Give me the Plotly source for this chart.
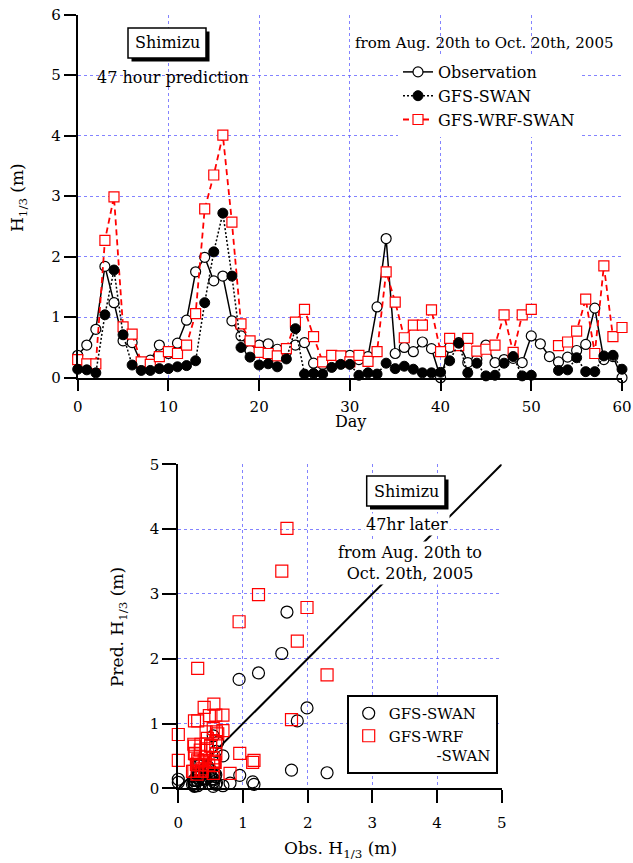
import plotly.graph_objects as go

W, H = 633, 863
FONT = "DejaVu Serif"

days = list(range(61))
obs = [0.37, 0.54, 0.80, 1.84, 1.24, 0.61, 0.58, 0.24, 0.29, 0.54,
       0.40, 0.57, 0.95, 1.75, 1.99, 1.60, 1.68, 0.94, 0.69, 0.45,
       0.54, 0.56, 0.47, 0.42, 0.54, 0.58, 0.24, 0.22, 0.28, 0.32,
       0.37, 0.30, 0.35, 1.17, 2.30, 0.40, 0.50, 0.43, 0.59, 0.48,
       0.00, 0.50, 0.58, 0.25, 0.30, 0.54, 0.25, 0.30, 0.32, 0.25,
       0.69, 0.56, 0.35, 0.26, 0.34, 0.45, 0.55, 1.15, 0.30, 0.35,
       0.00]
gfs_swan = [0.14, 0.13, 0.08, 1.04, 1.78, 0.71, 0.21, 0.12, 0.12, 0.15,
            0.15, 0.18, 0.20, 0.28, 1.24, 2.08, 2.72, 1.68, 0.50, 0.34,
            0.21, 0.23, 0.18, 0.31, 0.81, 0.06, 0.07, 0.06, 0.17, 0.22,
            0.22, 0.04, 0.08, 0.06, 0.24, 0.15, 0.19, 0.14, 0.08, 0.08,
            0.09, 0.28, 0.57, 0.08, 0.24, 0.03, 0.04, 0.24, 0.35, 0.03,
            0.04, None, None, 0.12, 0.13, 0.33, 0.10, 0.10, 0.36, 0.37,
            0.14]
gfs_wrf_swan = [0.30, 0.23, 0.23, 2.27, 2.99, 0.84, 0.72, 0.26, 0.22, 0.35,
                0.43, 0.40, 0.54, 1.06, 2.79, 3.35, 4.01, 2.57, 0.89, 0.61,
                0.42, 0.40, 0.36, 0.48, 0.92, 1.13, 0.68, 0.26, 0.37, 0.36,
                0.26, 0.37, 0.27, 0.43, 1.75, 1.25, 0.66, 0.87, 0.87, 1.12,
                0.43, 0.65, 0.53, 0.65, 0.44, 0.47, 0.54, 1.04, 0.42, 1.04,
                1.13, None, None, 0.53, 0.59, 0.77, 1.30, 0.40, 1.85, 0.68,
                0.83]
diag = [0, 5]

day_ticks = [0, 10, 20, 30, 40, 50, 60]
h_ticks = [0, 1, 2, 3, 4, 5, 6]
sc_ticks = [0, 1, 2, 3, 4, 5]

# scatter pairs (drop missing)
sw_x = [o for o, p in zip(obs, gfs_swan) if p is not None]
sw_y = [p for p in gfs_swan if p is not None]
wr_x = [o for o, p in zip(obs, gfs_wrf_swan) if p is not None]
wr_y = [p for p in gfs_wrf_swan if p is not None]


def px(x):
    return x / W


def py(y):
    return 1 - y / H


GRID = "rgba(90,90,255,0.75)"

fig = go.Figure()

# ---- top panel ----
fig.add_trace(go.Scatter(
    x=days, y=obs, mode="lines+markers", name="Observation",
    line=dict(color="black", width=1.5),
    marker=dict(symbol="circle", size=10, color="white",
                line=dict(color="black", width=1.2)),
    xaxis="x", yaxis="y", legend="legend", legendrank=1, cliponaxis=False))
fig.add_trace(go.Scatter(
    x=days, y=gfs_wrf_swan, mode="lines+markers", name="GFS-WRF-SWAN",
    line=dict(color="red", width=1.8, dash="6px,4px"),
    marker=dict(symbol="square", size=10, color="white",
                line=dict(color="red", width=1.2)),
    connectgaps=False,
    xaxis="x", yaxis="y", legend="legend", legendrank=3, cliponaxis=False))
fig.add_trace(go.Scatter(
    x=days, y=gfs_swan, mode="lines+markers", name="GFS-SWAN",
    line=dict(color="black", width=1.5, dash="2px,2px"),
    marker=dict(symbol="circle", size=10, color="black",
                line=dict(color="black", width=1)),
    connectgaps=False,
    xaxis="x", yaxis="y", legend="legend", legendrank=2, cliponaxis=False))

# ---- bottom panel ----
fig.add_trace(go.Scatter(
    x=diag, y=diag, mode="lines", showlegend=False,
    line=dict(color="black", width=2), xaxis="x2", yaxis="y2"))
fig.add_trace(go.Scatter(
    x=sw_x, y=sw_y, mode="markers", name="GFS-SWAN",
    marker=dict(symbol="circle-open", size=12, color="black",
                line=dict(color="black", width=1.2)),
    xaxis="x2", yaxis="y2", legend="legend2", cliponaxis=False))
fig.add_trace(go.Scatter(
    x=wr_x, y=wr_y, mode="markers",
    name="GFS-WRF<br>" + "\u00a0" * 10 + "-SWAN",
    marker=dict(symbol="square-open", size=12, color="red",
                line=dict(color="red", width=1.2)),
    xaxis="x2", yaxis="y2", legend="legend2", cliponaxis=False))

axis_common = dict(
    showline=True, linecolor="black", linewidth=2,
    ticks="outside", tickwidth=2, tickcolor="black",
    showgrid=True, gridcolor=GRID, gridwidth=1, griddash="dot",
    zeroline=False, mirror=False, automargin=False,
    ticklabeloverflow="allow",
    tickfont=dict(family=FONT, size=15, color="black"),
)

fig.update_layout(
    template="none",
    width=W, height=H,
    margin=dict(l=0, r=0, t=0, b=0, pad=0),
    paper_bgcolor="white", plot_bgcolor="white",
    font=dict(family=FONT, size=15, color="black"),
    xaxis=dict(domain=[px(77.7), px(622)], range=[0, 60], tickvals=day_ticks,
               anchor="y", ticklen=11, ticklabelstandoff=3, **axis_common),
    yaxis=dict(domain=[py(377.7), py(14.7)], range=[0, 6], tickvals=h_ticks,
               anchor="x", ticklen=12, **axis_common),
    xaxis2=dict(domain=[px(178.3), px(501.7)], range=[0, 5], tickvals=sc_ticks,
                anchor="y2", ticklen=13, ticklabelstandoff=7, **axis_common),
    yaxis2=dict(domain=[py(788.3), py(464.3)], range=[0, 5], tickvals=sc_ticks,
                anchor="x2", ticklen=14, **axis_common),
    legend=dict(x=px(398), y=py(55), xanchor="left", yanchor="top",
                bgcolor="white", borderwidth=0,
                font=dict(family=FONT, size=16, color="black"),
                tracegroupgap=0, itemwidth=30),
    legend2=dict(x=px(346.7), y=py(695), xanchor="left", yanchor="top",
                 bgcolor="white", bordercolor="black", borderwidth=2,
                 font=dict(family=FONT, size=15, color="black"),
                 valign="top", itemwidth=30),
)

shapes = []
# top "Shimizu" box with shadow
shapes.append(dict(type="rect", xref="paper", yref="paper",
                   x0=px(131.5), x1=px(209.5), y0=py(61.5), y1=py(31.5),
                   fillcolor="black", line=dict(width=0), layer="above"))
shapes.append(dict(type="rect", xref="paper", yref="paper",
                   x0=px(128), x1=px(206), y0=py(58), y1=py(28),
                   fillcolor="white", line=dict(color="black", width=1.5),
                   layer="above"))
# bottom "Shimizu" box with shadow
shapes.append(dict(type="rect", xref="paper", yref="paper",
                   x0=px(370), x1=px(448.5), y0=py(509.5), y1=py(479.5),
                   fillcolor="black", line=dict(width=0), layer="above"))
shapes.append(dict(type="rect", xref="paper", yref="paper",
                   x0=px(366.7), x1=px(445), y0=py(506), y1=py(476),
                   fillcolor="white", line=dict(color="black", width=1.5),
                   layer="above"))
fig.update_layout(shapes=shapes)


def note(text, x, y, size=16, xanchor="center", angle=0, bg=None):
    d = dict(text=text, x=px(x), y=py(y), xref="paper", yref="paper",
             xanchor=xanchor, yanchor="middle", showarrow=False,
             textangle=angle, font=dict(size=size), align="center")
    if bg:
        d["bgcolor"] = bg
    return d


ann = [
    note("Shimizu", 167, 43, 16),
    note("47 hour prediction", 173, 78, 16),
    note("from Aug. 20th to Oct. 20th, 2005", 616, 43, 15, xanchor="right"),
    note("H<sub>1/3</sub> (m)", 18, 198, 17, angle=-90),
    note("Day", 350, 421, 16),
    note("Shimizu", 406, 491, 16),
    note("47hr later", 407, 524, 16, bg="white"),
    note("from Aug. 20th to<br>Oct. 20th, 2005", 410, 563, 16, bg="white"),
    note("Pred. H<sub>1/3</sub> (m)", 118, 627, 17, angle=-90),
    note("Obs. H<sub>1/3</sub> (m)", 340, 849, 17),
]
fig.update_layout(annotations=ann)

fig.write_html(
    "out.html",
    config={"displayModeBar": False},
    post_script="document.body.style.margin='0';"
                "document.body.style.overflow='hidden';",
)
